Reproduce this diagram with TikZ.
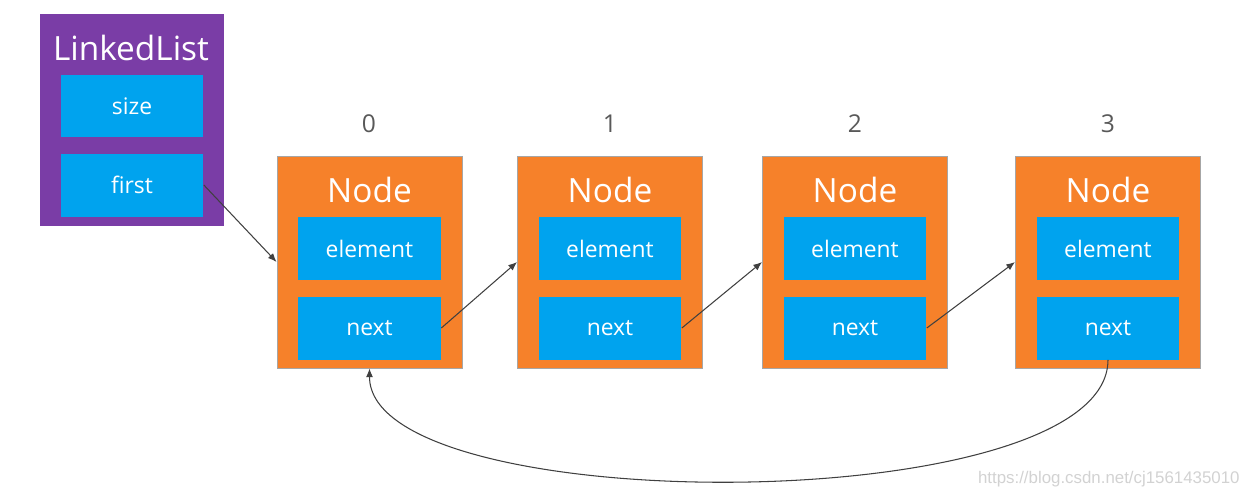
\documentclass[tikz,border=0pt]{standalone}
\usepackage{fontspec}
\setmainfont{Open Sans}
\newfontfamily\wmfont{Liberation Sans}
\usetikzlibrary{arrows.meta}
\definecolor{listpurple}{HTML}{7A3DA6}
\definecolor{nodeorange}{HTML}{F6812A}
\definecolor{fieldblue}{HTML}{00A3EE}
\definecolor{numgrey}{HTML}{595959}
\tikzset{
  listbox/.style={fill=listpurple, minimum width=3.68cm, minimum height=4.24cm, inner sep=0pt},
  nodebox/.style={fill=nodeorange, draw=gray!70, line width=0.5pt, minimum width=3.7cm, minimum height=4.24cm, inner sep=0pt},
  field/.style={fill=fieldblue, text=white, minimum width=2.86cm, minimum height=1.26cm, inner sep=0pt, font=\fontsize{13}{15}\selectfont},
  title/.style={text=white, inner sep=0pt, font=\fontsize{19}{22}\selectfont},
  index/.style={text=numgrey, inner sep=0pt, font=\fontsize{14}{16}\selectfont},
  link/.style={draw=black!75, line width=0.6pt, -{Latex[length=5pt,width=4pt]}}
}
\begin{document}
\begin{tikzpicture}[x=0.02cm, y=-0.02cm]
\useasboundingbox (0,0) rectangle (1249,498);
% the list object
\node[listbox] (ll) at (132,120) {};
\node[title] (llt) at (131,48) {LinkedList};
\node[field] (size) at (132,106) {size};
\node[field] (first) at (132,185) {first};
% the four nodes
\node[index] (i0) at (369,124) {0};
\node[nodebox] (n0) at (369.5,262) {};
\node[title] (t0) at (369.5,190) {Node};
\node[field] (el0) at (369.5,248.5) {element};
\node[field] (nx0) at (369.5,328) {next};
\node[index] (i1) at (610,124) {1};
\node[nodebox] (n1) at (610,262) {};
\node[title] (t1) at (610,190) {Node};
\node[field] (el1) at (610,248.5) {element};
\node[field] (nx1) at (610,328) {next};
\node[index] (i2) at (855,124) {2};
\node[nodebox] (n2) at (855,262) {};
\node[title] (t2) at (855,190) {Node};
\node[field] (el2) at (855,248.5) {element};
\node[field] (nx2) at (855,328) {next};
\node[index] (i3) at (1108,124) {3};
\node[nodebox] (n3) at (1108,262) {};
\node[title] (t3) at (1108,190) {Node};
\node[field] (el3) at (1108,248.5) {element};
\node[field] (nx3) at (1108,328) {next};
% links
\draw[link] (first.east) -- (n0.west);
\draw[link] (nx0.east) -- (n1.west);
\draw[link] (nx1.east) -- (n2.west);
\draw[link] (nx2.east) -- (n3.west);
\draw[link] (nx3.south) .. controls +(0,160) and +(0,152) .. (n0.south);
% watermark
\node[text=gray!35, inner sep=0pt, anchor=east, font=\wmfont\fontsize{9.6}{11}\selectfont] (wm) at (1240,479) {https://blog.csdn.net/cj1561435010};
\end{tikzpicture}
\end{document}
